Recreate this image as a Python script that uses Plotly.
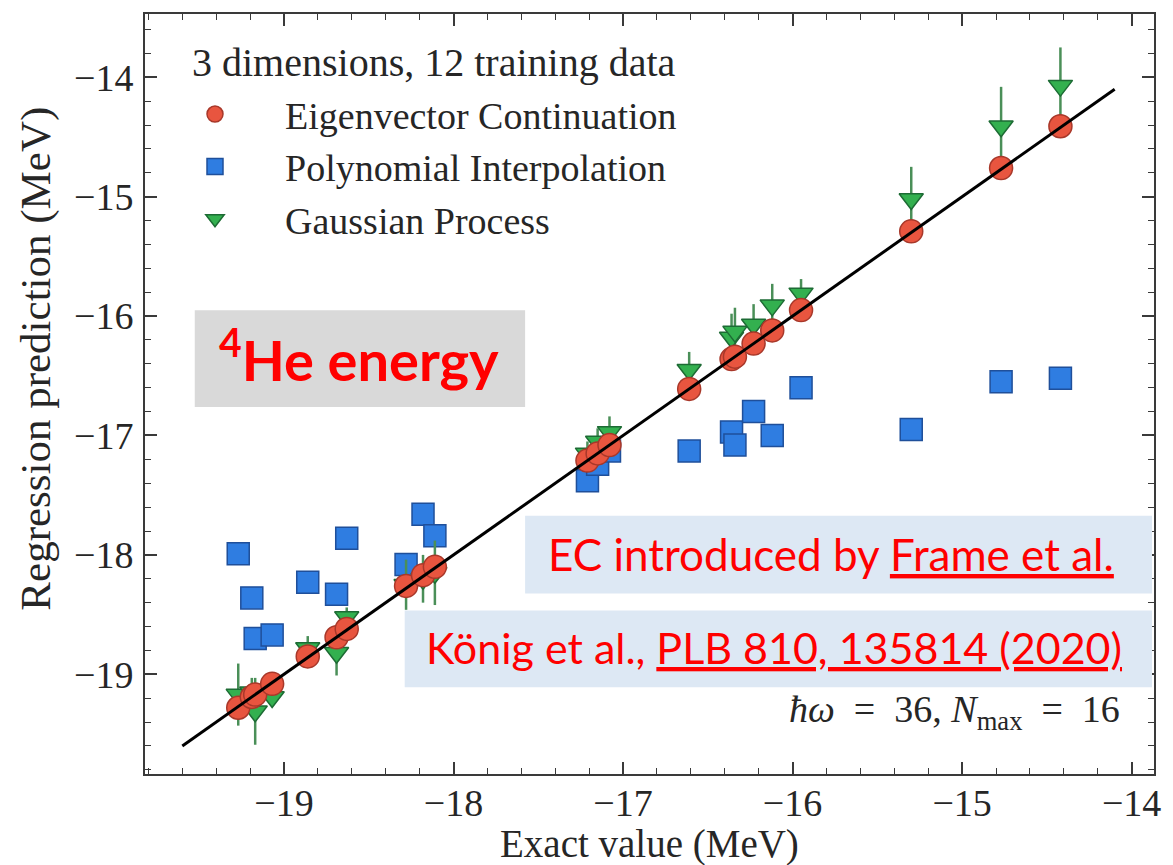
import plotly.graph_objects as go

# Exact 4He ground-state energies (MeV) of the test points
exact = [-19.27, -19.19, -19.17, -19.07, -18.86, -18.69, -18.63, -18.28, -18.18, -18.11,
         -17.21, -17.15, -17.08, -16.61, -16.36, -16.34, -16.23, -16.12, -15.95,
         -15.30, -14.77, -14.42]

# Eigenvector continuation predictions
ec_pred = [-19.28, -19.19, -19.17, -19.08, -18.85, -18.69, -18.62, -18.26, -18.17, -18.10,
           -17.21, -17.15, -17.08, -16.61, -16.36, -16.34, -16.23, -16.12, -15.95,
           -15.29, -14.76, -14.41]

# Polynomial interpolation predictions
poly_pred = [-17.99, -18.36, -18.70, -18.67, -18.23, -18.33, -17.86, -18.08, -17.66, -17.84,
             -17.38, -17.24, -17.13, -17.13, -16.97, -17.08, -16.80, -17.00, -16.60,
             -16.95, -16.55, -16.52]

# Gaussian process predictions and their uncertainties
gp_pred = [-19.17, -19.15, -19.31, -19.19, -18.78, -18.82, -18.52, -18.25, -18.20, -18.15,
           -17.15, -17.05, -16.97, -16.45, -16.18, -16.13, -16.07, -15.91, -15.81,
           -15.02, -14.41, -14.07]
gp_err = [0.26, 0.12, 0.28, 0.07, 0.10, 0.19, 0.08, 0.21, 0.20, 0.27,
          0.10, 0.11, 0.13, 0.15, 0.20, 0.20, 0.17, 0.18, 0.12,
          0.27, 0.33, 0.32]

# End points of the y = x reference line
diag = [-19.6, -14.1]

x_range = [-19.82, -13.868]
y_range = [-19.835, -13.47]

W, H = 1173, 865
ML, MR, MT, MB = 145, 14, 12, 91
PW, PH = W - ML - MR, H - MT - MB


def px(x):
    return (x - ML) / PW


def py(y):
    return (H - MB - y) / PH


SERIF = "Liberation Serif"
SANS = "Lato"
INK = "#262626"

fig = go.Figure()

fig.add_trace(go.Scatter(
    x=exact, y=poly_pred, mode="markers", name="Polynomial Interpolation",
    legendrank=2,
    marker=dict(symbol="square", size=22, color="#2f7de1",
                line=dict(color="#1f4f9a", width=1.5)),
))

fig.add_trace(go.Scatter(
    x=exact, y=gp_pred, mode="markers", name="Gaussian Process",
    legendrank=3,
    error_y=dict(type="data", array=gp_err, visible=True, color="#4a8f58",
                 thickness=2.5, width=0),
    marker=dict(symbol="triangle-down", size=21, color="#33b04f",
                line=dict(color="#1d6b34", width=1.5)),
))

fig.add_trace(go.Scatter(
    x=exact, y=ec_pred, mode="markers", name="Eigenvector Continuation",
    legendrank=1,
    marker=dict(symbol="circle", size=23, color="#e8553f",
                line=dict(color="#a8382a", width=1.5)),
))

fig.add_trace(go.Scatter(
    x=diag, y=diag, mode="lines", showlegend=False,
    line=dict(color="black", width=3),
))

axis_common = dict(
    showgrid=False, zeroline=False,
    showline=True, linecolor="#3a3a3a", linewidth=2, mirror="allticks",
    ticks="inside", ticklen=12, tickwidth=1.5, tickcolor="#3a3a3a",
    dtick=1, tick0=-19,
    minor=dict(dtick=0.2, ticks="inside", ticklen=6, tickwidth=1.2, tickcolor="#3a3a3a"),
    tickfont=dict(family=SERIF, size=38, color=INK),
)

fig.update_xaxes(range=x_range, ticklabelstandoff=-6, **axis_common)
fig.update_yaxes(range=y_range, ticklabelstandoff=2, **axis_common)

shapes = [
    dict(type="rect", xref="paper", yref="paper",
         x0=px(195), x1=px(527), y0=py(406), y1=py(309),
         fillcolor="#d9d9d9", line=dict(width=0), layer="above"),
    dict(type="rect", xref="paper", yref="paper",
         x0=px(527), x1=px(1157), y0=py(593), y1=py(515),
         fillcolor="#dde8f4", line=dict(width=0), layer="above"),
    dict(type="rect", xref="paper", yref="paper",
         x0=px(406), x1=px(1157), y0=py(687), y1=py(610),
         fillcolor="#dde8f4", line=dict(width=0), layer="above"),
]

EN = "\u2002"
annotations = [
    dict(text="<b><sup>4</sup>He energy</b>", x=px(360), y=py(354),
         font=dict(family=SANS, size=56, color="#ff0000")),
    dict(text="EC introduced by <u>Frame et al.</u>", x=px(834), y=py(553),
         font=dict(family=SANS, size=44, color="#ff0000")),
    dict(text="König et al., <u>PLB 810, 135814 (2020)</u>", x=px(777), y=py(647),
         font=dict(family=SANS, size=43, color="#ff0000")),
    dict(text=f"<i>ħω</i>{EN}={EN}36, <i>N</i><sub>max</sub>{EN}={EN}16",
         x=px(1127), y=py(712), xanchor="right",
         font=dict(family=SERIF, size=38, color=INK)),
    dict(text="3 dimensions, 12 training data", x=px(190), y=py(61),
         xanchor="left", font=dict(family=SERIF, size=40, color=INK)),
    dict(text="Exact value (MeV)", x=px(652), y=py(844),
         font=dict(family=SERIF, size=39, color=INK)),
    dict(text="Regression prediction (MeV)", x=px(36), y=py(358), textangle=-90,
         font=dict(family=SERIF, size=43, color=INK)),
]
for a in annotations:
    a.setdefault("xref", "paper")
    a.setdefault("yref", "paper")
    a.setdefault("showarrow", False)
    a.setdefault("xanchor", "center")
    a.setdefault("yanchor", "middle")

fig.update_layout(
    width=W, height=H,
    margin=dict(l=ML, r=MR, t=MT, b=MB),
    paper_bgcolor="white", plot_bgcolor="white",
    shapes=shapes, annotations=annotations,
    legend=dict(
        x=px(145), y=py(81), xanchor="left", yanchor="top",
        bgcolor="rgba(0,0,0,0)", borderwidth=0,
        itemwidth=130, tracegroupgap=0,
        font=dict(family=SERIF, size=38, color=INK),
    ),
)

fig.write_html("out.html")
